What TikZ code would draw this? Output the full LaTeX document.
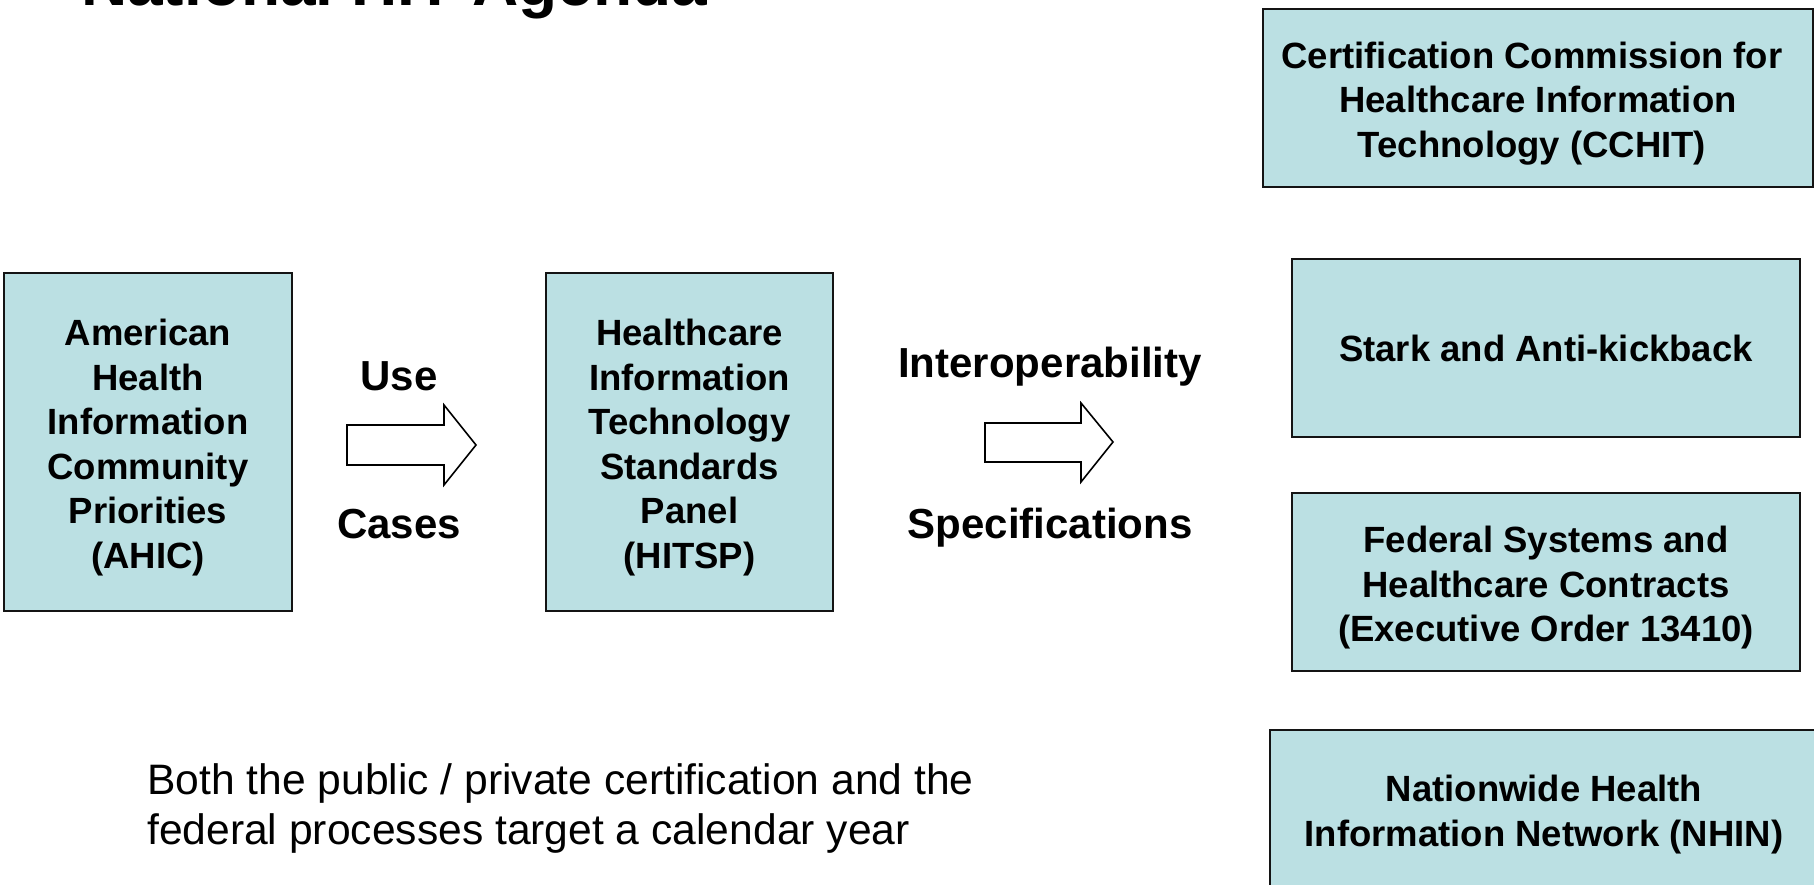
\documentclass[tikz,border=0pt]{standalone}
\usepackage{fontspec}
\setmainfont{Liberation Sans}
\definecolor{boxfill}{RGB}{187,224,227}
\definecolor{boxline}{RGB}{20,20,20}
\newcommand\topstrut[1]{\rule{0pt}{#1}}
\begin{document}
\begin{tikzpicture}[x=1pt,y=-1pt,
  box/.style={draw=boxline, fill=boxfill, line width=1.5pt, align=center, inner sep=0pt,
    font=\fontsize{36.5}{44.6}\selectfont\bfseries},
  lbl/.style={font=\fontsize{42}{50}\selectfont\bfseries, inner sep=0pt, anchor=base},
  blockarrow/.style={draw=black, fill=white, line width=1.6pt, line join=miter}]
\useasboundingbox (0,0) rectangle (1814,885);
\node[anchor=base west, inner sep=0pt, font=\fontsize{64}{70}\selectfont\bfseries] (title) at (81,6) {National HIT Agenda};

\node[box, minimum width=288pt, minimum height=338pt] (ahic) at (148,442)
  {\topstrut{37.5pt}American\\Health\\Information\\Community\\Priorities\\(AHIC)};
\node[box, minimum width=287pt, minimum height=338pt] (hitsp) at (689.5,442)
  {\topstrut{37.5pt}Healthcare\\Information\\Technology\\Standards\\Panel\\(HITSP)};

\node[box, minimum width=550pt, minimum height=178pt] (cchit) at (1538,98)
  {\topstrut{37.5pt}Certification Commission for\hspace*{12pt}\\Healthcare Information\hspace*{12pt}\\Technology (CCHIT)\hspace*{12pt}};
\node[box, minimum width=508pt, minimum height=178pt] (stark) at (1546,348)
  {Stark and Anti-kickback};
\node[box, minimum width=508pt, minimum height=178pt] (federal) at (1546,582)
  {\topstrut{38pt}Federal Systems and\\Healthcare Contracts\\(Executive Order 13410)};
\node[box, minimum width=548pt, minimum height=160pt] (nhin) at (1544,810)
  {\topstrut{35.5pt}Nationwide Health\\Information Network (NHIN)};

\node[lbl] (use) at (399,390) {Use};
\node[lbl] (cases) at (399,538) {Cases};
\node[lbl] (interop) at (1050,377) {Interoperability};
\node[lbl] (specs) at (1050,538) {Specifications};

\draw[blockarrow] (347,425) -- (444,425) -- (444,405) -- (476,445) -- (444,485) -- (444,465) -- (347,465) -- cycle;
\draw[blockarrow] (985,423) -- (1081,423) -- (1081,403) -- (1113,442) -- (1081,482) -- (1081,462) -- (985,462) -- cycle;

\node[anchor=base west, inner sep=0pt, align=left, font=\fontsize{42.6}{50}\selectfont] (note) at (147,844)
  {Both the public / private certification and the\\federal processes target a calendar year};
\end{tikzpicture}
\end{document}
